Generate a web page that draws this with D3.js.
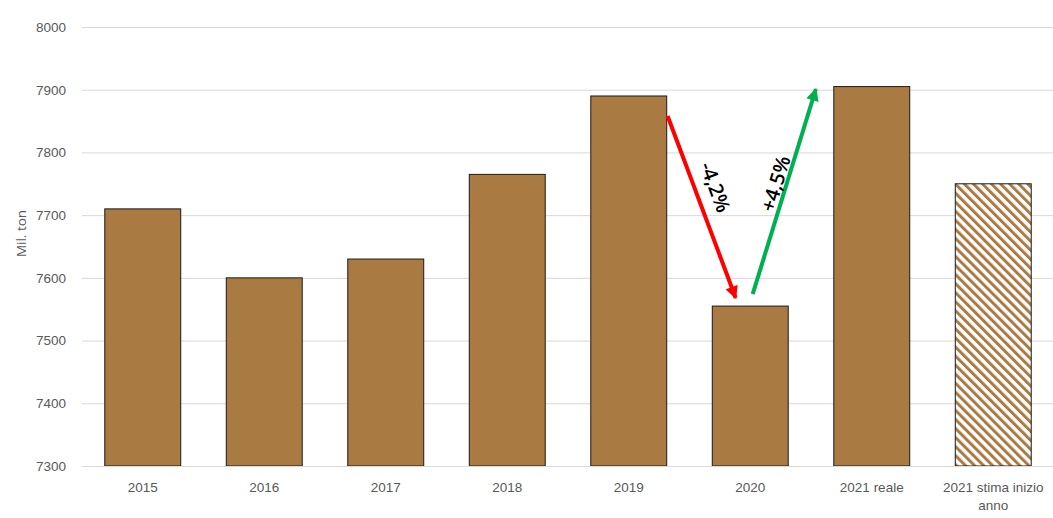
<!DOCTYPE html>
<html>
<head>
<meta charset="utf-8">
<script src="https://cdn.jsdelivr.net/npm/d3@7"></script>
<style>
  html, body { margin: 0; padding: 0; background: #fff; }
  svg { display: block; font-family: "Open Sans", "Liberation Sans", sans-serif; }
</style>
</head>
<body>
<svg id="chart" width="1053" height="518"></svg>
<script>
// Production per year (million tonnes)
const categories = ["2015", "2016", "2017", "2018", "2019", "2020", "2021 reale", "2021 stima inizio anno"];
const values = [7710, 7600, 7630, 7765, 7890, 7555, 7905, 7750];
const estimated = [false, false, false, false, false, false, false, true];
const yTicks = [7300, 7400, 7500, 7600, 7700, 7800, 7900, 8000];

// Change arrows: from/to given as [category position in steps, value]
const arrowLabels = ["-4,2%", "+4,5%"];
const arrowFrom = [[4.82, 7858], [5.52, 7574]];
const arrowTo = [[5.38, 7568], [6.04, 7901]];
const arrowColors = ["#ff0000", "#00b050"];
const labelOffsets = [[14, -20], [-9, -8]];

const svg = d3.select("#chart");
const margin = { left: 82, right: 0, top: 27, bottom: 52 };
const W = 1053, H = 518;

const x = d3.scaleBand()
  .domain(categories)
  .range([margin.left, 1054])
  .paddingInner(0.375)
  .paddingOuter(0.1875);

const y = d3.scaleLinear()
  .domain([7300, 8000])
  .range([466, margin.top]);

// Position helper for annotation anchors: category index + fractional step
const xAt = v => x(categories[0]) - x.step() * x.paddingInner() / 2 + v * x.step();

// Hatch pattern for the estimate bar
const defs = svg.append("defs");
const pat = defs.append("pattern")
  .attr("id", "hatch")
  .attr("patternUnits", "userSpaceOnUse")
  .attr("width", 6.4)
  .attr("height", 6.4)
  .attr("patternTransform", "rotate(-45)");
pat.append("rect").attr("width", 6.4).attr("height", 6.4).attr("fill", "#fff");
pat.append("rect").attr("x", 0).attr("width", 3).attr("height", 6.4).attr("fill", "#ab7a43");

["red", "green"].forEach((n, i) => {
  defs.append("marker")
    .attr("id", "head-" + n)
    .attr("viewBox", "0 0 10 10")
    .attr("refX", 9).attr("refY", 5)
    .attr("markerWidth", 3.4).attr("markerHeight", 3.2)
    .attr("markerUnits", "strokeWidth")
    .attr("orient", "auto")
    .append("path")
    .attr("d", "M0,0 L10,5 L0,10 Z")
    .attr("fill", arrowColors[i]);
});

// Gridlines + y tick labels
const yAxis = d3.axisLeft(y).tickValues(yTicks).tickSize(-(W - margin.left)).tickPadding(16).tickFormat(d3.format("d"));
const gy = svg.append("g").attr("transform", `translate(${margin.left},0)`).call(yAxis);
gy.select(".domain").remove();
gy.selectAll(".tick line").attr("stroke", "#d9d9d9").attr("stroke-width", 1);
gy.selectAll(".tick text").attr("fill", "#595959").attr("font-size", 13.5);

// Y axis title
svg.append("text")
  .attr("transform", `translate(26,${(y(7300) + y(8000)) / 2 - 13}) rotate(-90)`)
  .attr("text-anchor", "middle")
  .attr("fill", "#595959")
  .attr("font-size", 13.5)
  .text("Mil. ton");

// Bars
svg.append("g").selectAll("rect")
  .data(categories)
  .join("rect")
  .attr("x", d => x(d))
  .attr("y", (d, i) => y(values[i]))
  .attr("width", x.bandwidth())
  .attr("height", (d, i) => y(7300) - y(values[i]))
  .attr("fill", (d, i) => estimated[i] ? "url(#hatch)" : "#aa7a43")
  .attr("stroke", "#1a1a1a")
  .attr("stroke-width", 1);

// X axis labels
const xAxis = d3.axisBottom(x).tickSize(0).tickPadding(16);
const gx = svg.append("g").attr("transform", `translate(0,${y(7300)})`).call(xAxis);
gx.select(".domain").attr("stroke", "#d9d9d9");
gx.selectAll(".tick text").attr("fill", "#595959").attr("font-size", 13.5)
  .each(function (d) {
    if (d.length > 12) {
      const t = d3.select(this);
      const lastSpace = d.lastIndexOf(" ");
      t.text(null);
      t.append("tspan").attr("x", 0).attr("dy", "0.71em").text(d.slice(0, lastSpace));
      t.append("tspan").attr("x", 0).attr("dy", "1.4em").text(d.slice(lastSpace + 1));
      t.attr("dy", null);
    }
  });

// Change arrows and labels
arrowLabels.forEach((lab, i) => {
  const x1 = xAt(arrowFrom[i][0]), y1 = y(arrowFrom[i][1]);
  const x2 = xAt(arrowTo[i][0]), y2 = y(arrowTo[i][1]);
  svg.append("line")
    .attr("x1", x1).attr("y1", y1).attr("x2", x2).attr("y2", y2)
    .attr("stroke", arrowColors[i])
    .attr("stroke-width", 4)
    .attr("marker-end", `url(#head-${i === 0 ? "red" : "green"})`);
  const ang = Math.atan2(y2 - y1, x2 - x1) * 180 / Math.PI;
  const rot = i === 0 ? ang : ang;
  const mx = (x1 + x2) / 2, my = (y1 + y2) / 2;
  const off = labelOffsets[i];
  svg.append("text")
    .attr("transform", `translate(${mx + off[0]},${my + off[1]}) rotate(${rot})`)
    .attr("text-anchor", "middle")
    .attr("dominant-baseline", "central")
    .attr("font-size", 20)
    .attr("font-weight", 600)
    .attr("fill", "#000")
    .text(lab);
});
</script>
</body>
</html>
